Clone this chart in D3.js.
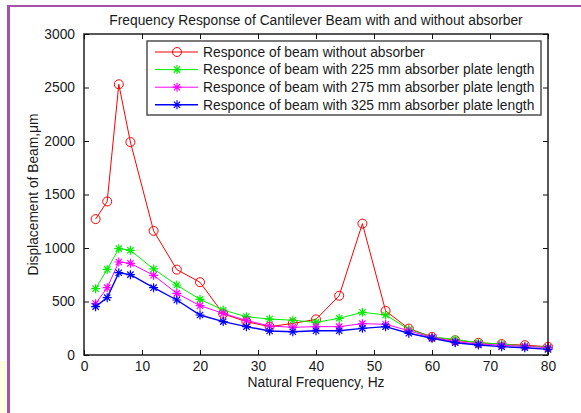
<!DOCTYPE html>
<html>
<head>
<meta charset="utf-8">
<script src="https://cdn.jsdelivr.net/npm/d3@7"></script>
<style>
  body { margin: 0; background: #fff; }
  svg { display: block; font-family: "Liberation Sans", Arial, sans-serif; }
</style>
</head>
<body>
<div id="chart"></div>
<script>
const width = 581;
const height = 413;
const margin = { top: 34, right: 33, bottom: 58, left: 84 };
const fontSize = "13.8px";

// natural frequency, Hz
const frequency = [2, 4, 6, 8, 12, 16, 20, 24, 28, 32, 36, 40, 44, 48, 52, 56, 60, 64, 68, 72, 76, 80];

// displacement of beam, um
const noAbsorber = [1270, 1435, 2530, 1990, 1160, 798, 680, 385, 311, 265, 295, 333, 554, 1228, 412, 247, 170, 138, 114, 102, 92, 77];
const plate225 = [620, 800, 994, 978, 804, 654, 520, 420, 358, 336, 325, 305, 343, 399, 374, 240, 168, 146, 115, 103, 84, 72];
const plate275 = [480, 629, 869, 857, 745, 576, 461, 389, 323, 271, 259, 265, 265, 293, 287, 227, 165, 125, 103, 92, 80, 69];
const plate325 = [452, 536, 769, 751, 629, 514, 374, 312, 265, 224, 217, 227, 227, 249, 265, 203, 156, 115, 93, 78, 68, 53];

const seriesNames = [
  "Responce of beam without absorber",
  "Responce of beam with 225 mm absorber plate length",
  "Responce of beam with 275 mm absorber plate length",
  "Responce of beam with 325 mm absorber plate length"
];
const seriesColors = ["#ff0000", "#00ee00", "#ff00ff", "#0000ff"];
const seriesMarkers = ["circle", "star", "star", "star"];
const seriesValues = [noAbsorber, plate225, plate275, plate325];

const xTicks = [0, 10, 20, 30, 40, 50, 60, 70, 80];
const yTicks = [0, 500, 1000, 1500, 2000, 2500, 3000];

const series = seriesNames.map((name, i) => ({
  name,
  color: seriesColors[i],
  marker: seriesMarkers[i],
  points: frequency.map((f, j) => ({ x: f, y: seriesValues[i][j] }))
}));

const svg = d3.select("#chart").append("svg")
  .attr("width", width)
  .attr("height", height);

// page decoration from the screenshot
svg.append("rect").attr("x", 0).attr("y", 361).attr("width", 8).attr("height", height - 361).attr("fill", "#fefde2");
svg.append("rect").attr("x", 7).attr("y", 5).attr("width", 3).attr("height", height - 5).attr("fill", "#a652a8");
svg.append("rect").attr("x", 7).attr("y", 5).attr("width", width - 7).attr("height", 2).attr("fill", "#a652a8");

const x = d3.scaleLinear().domain([0, 80]).range([margin.left, width - margin.right]);
const y = d3.scaleLinear().domain([0, 3000]).range([height - margin.bottom, margin.top]);

const axisColor = "#111";
const fmt = d3.format("d");

svg.append("g")
  .attr("transform", `translate(0,${height - margin.bottom})`)
  .call(d3.axisBottom(x).tickValues(xTicks).tickFormat(fmt).tickSizeInner(-5).tickSizeOuter(0).tickPadding(6))
  .call(g => g.select(".domain").remove());
svg.append("g")
  .attr("transform", `translate(0,${margin.top})`)
  .call(d3.axisTop(x).tickValues(xTicks).tickSizeInner(-5).tickSizeOuter(0).tickFormat(""))
  .call(g => g.select(".domain").remove());
svg.append("g")
  .attr("transform", `translate(${margin.left},0)`)
  .call(d3.axisLeft(y).tickValues(yTicks).tickFormat(fmt).tickSizeInner(-5).tickSizeOuter(0).tickPadding(9))
  .call(g => g.select(".domain").remove());
svg.append("g")
  .attr("transform", `translate(${width - margin.right},0)`)
  .call(d3.axisRight(y).tickValues(yTicks).tickSizeInner(-5).tickSizeOuter(0).tickFormat(""))
  .call(g => g.select(".domain").remove());

svg.selectAll(".tick line").attr("stroke", axisColor);
svg.selectAll(".tick text").attr("fill", "#1a1a1a").style("font-size", fontSize);

const line = d3.line().x(d => x(d.x)).y(d => y(d.y));

const drawMarker = (sel, type, color, cx, cy) => {
  if (type === "circle") {
    sel.append("circle").attr("cx", cx).attr("cy", cy).attr("r", 4.5)
      .attr("fill", "none").attr("stroke", color).attr("stroke-width", 1);
  } else {
    const s = 4.5;
    const star = d3.path();
    star.moveTo(cx - s, cy); star.lineTo(cx + s, cy);
    star.moveTo(cx, cy - s); star.lineTo(cx, cy + s);
    star.moveTo(cx - s * 0.7, cy - s * 0.7); star.lineTo(cx + s * 0.7, cy + s * 0.7);
    star.moveTo(cx - s * 0.7, cy + s * 0.7); star.lineTo(cx + s * 0.7, cy - s * 0.7);
    sel.append("path").attr("d", star.toString()).attr("stroke", color).attr("stroke-width", 1.2).attr("fill", "none");
  }
};

const plot = svg.append("g");
series.forEach(s => {
  const g = plot.append("g");
  g.append("path").datum(s.points)
    .attr("d", line)
    .attr("fill", "none")
    .attr("stroke", s.color)
    .attr("stroke-width", s.color === "#0000ff" ? 1.4 : 1);
  s.points.forEach(p => drawMarker(g, s.marker, s.color, x(p.x), y(p.y)));
});

// axes box
svg.append("rect")
  .attr("x", margin.left).attr("y", margin.top)
  .attr("width", width - margin.left - margin.right)
  .attr("height", height - margin.top - margin.bottom)
  .attr("fill", "none").attr("stroke", axisColor).attr("stroke-width", 1.4);

// legend
const legend = svg.append("g").attr("transform", "translate(147,41)");
legend.append("rect").attr("width", 394).attr("height", 74)
  .attr("fill", "#fff").attr("stroke", "#444").attr("stroke-width", 1.4);
series.forEach((s, i) => {
  const ly = 11 + i * 17.6;
  legend.append("line").attr("x1", 8).attr("x2", 51).attr("y1", ly).attr("y2", ly)
    .attr("stroke", s.color).attr("stroke-width", s.color === "#0000ff" ? 1.4 : 1);
  drawMarker(legend, s.marker, s.color, 30, ly);
  legend.append("text").attr("x", 56).attr("y", ly).attr("dy", "0.35em")
    .attr("fill", "#1a1a1a").style("font-size", fontSize).text(s.name);
});

// title and labels
svg.append("text")
  .attr("x", (margin.left + width - margin.right) / 2).attr("y", 25)
  .attr("text-anchor", "middle").attr("fill", "#1a1a1a").style("font-size", fontSize)
  .text("Frequency Response of Cantilever Beam with and without absorber");

svg.append("text")
  .attr("x", (margin.left + width - margin.right) / 2).attr("y", 387)
  .attr("text-anchor", "middle").attr("fill", "#1a1a1a").style("font-size", fontSize)
  .text("Natural Frequency, Hz");

svg.append("text")
  .attr("transform", `translate(38,${(margin.top + height - margin.bottom) / 2}) rotate(-90)`)
  .attr("text-anchor", "middle").attr("fill", "#1a1a1a").style("font-size", fontSize)
  .text("Displacement of Beam,μm");
</script>
</body>
</html>
